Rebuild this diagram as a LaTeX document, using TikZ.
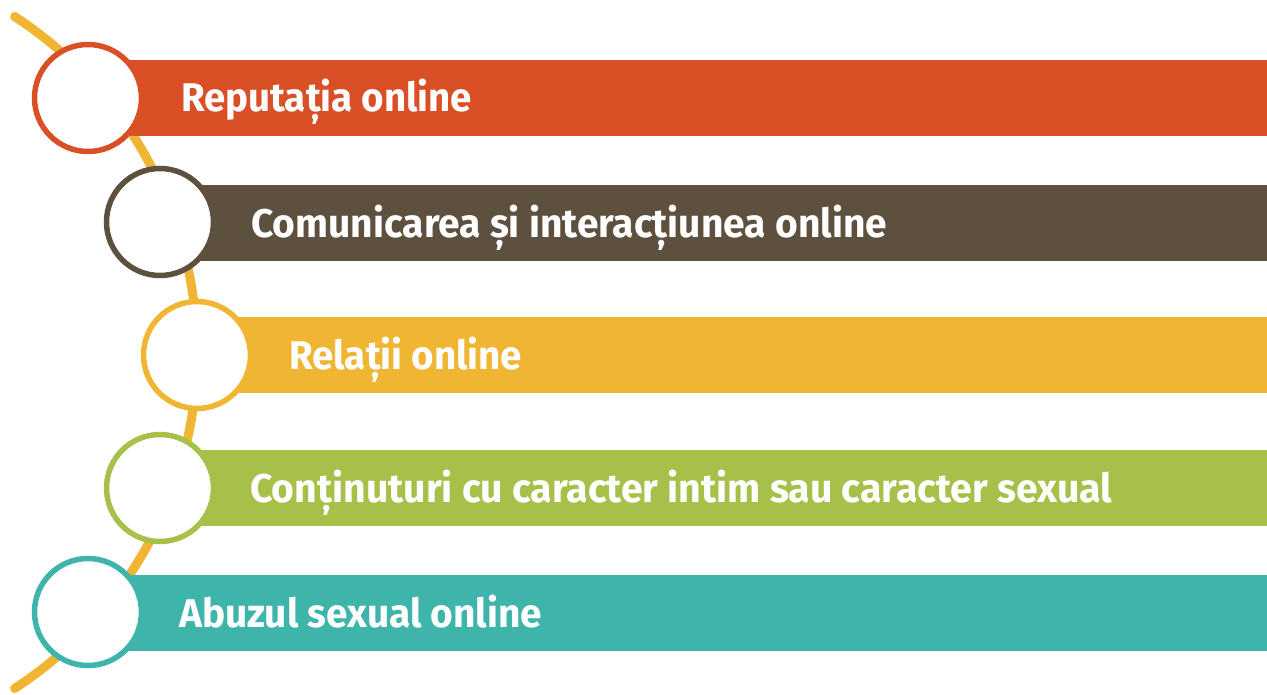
\documentclass[tikz,border=0pt]{standalone}
\usepackage{fontspec}
\setmainfont{Fira Sans}
\usepackage{graphicx}
\usetikzlibrary{calc}
\definecolor{cred}{RGB}{217,80,39}
\definecolor{cbrown}{RGB}{94,80,62}
\definecolor{cyellow}{RGB}{240,181,51}
\definecolor{cgreen}{RGB}{167,192,74}
\definecolor{cteal}{RGB}{63,180,170}
\begin{document}
\begin{tikzpicture}[x=1pt,y=-1pt,
  bar/.style={fill=#1, draw=none},
  ring/.style={circle, draw=#1, line width=5.5pt, fill=white, minimum size=107pt, inner sep=0pt},
  itemtext/.style={anchor=base west, inner sep=0pt, text=white, font=\fontsize{40}{41}\selectfont\bfseries},
  spine/.style={draw=cyellow, line width=9pt, line cap=round}]
\useasboundingbox (0,0) rectangle (1267,695);
% spine arc
\coordinate (sc) at (-203.6,352.5);
\draw[spine] ($(sc)+(57:400.6pt)$) arc[start angle=57, end angle=-57, radius=400.6pt];
% bars
\fill[bar=cred]    (88,60)  rectangle (1267,136);
\fill[bar=cbrown]  (160,185) rectangle (1267,261);
\fill[bar=cyellow] (197,317) rectangle (1267,393);
\fill[bar=cgreen]  (160,450) rectangle (1267,526);
\fill[bar=cteal]   (88,575) rectangle (1267,651);
% circles
\node[ring=cred]    (c1) at (88,98) {};
\node[ring=cbrown]  (c2) at (160,222) {};
\node[ring=cyellow] (c3) at (197,355) {};
\node[ring=cgreen]  (c4) at (160,488) {};
\node[ring=cteal]   (c5) at (88,612) {};
% labels
\node[itemtext] (t1) at (181,112) {\resizebox{291pt}{\height}{Reputația online}};
\node[itemtext] (t2) at (251,237) {\resizebox{636pt}{\height}{Comunicarea și interacțiunea online}};
\node[itemtext] (t3) at (289,369) {\resizebox{233pt}{\height}{Relații online}};
\node[itemtext] (t4) at (250,502) {\resizebox{862pt}{\height}{Conținuturi cu caracter intim sau caracter sexual}};
\node[itemtext] (t5) at (179,627) {\resizebox{363pt}{\height}{Abuzul sexual online}};
\end{tikzpicture}
\end{document}
